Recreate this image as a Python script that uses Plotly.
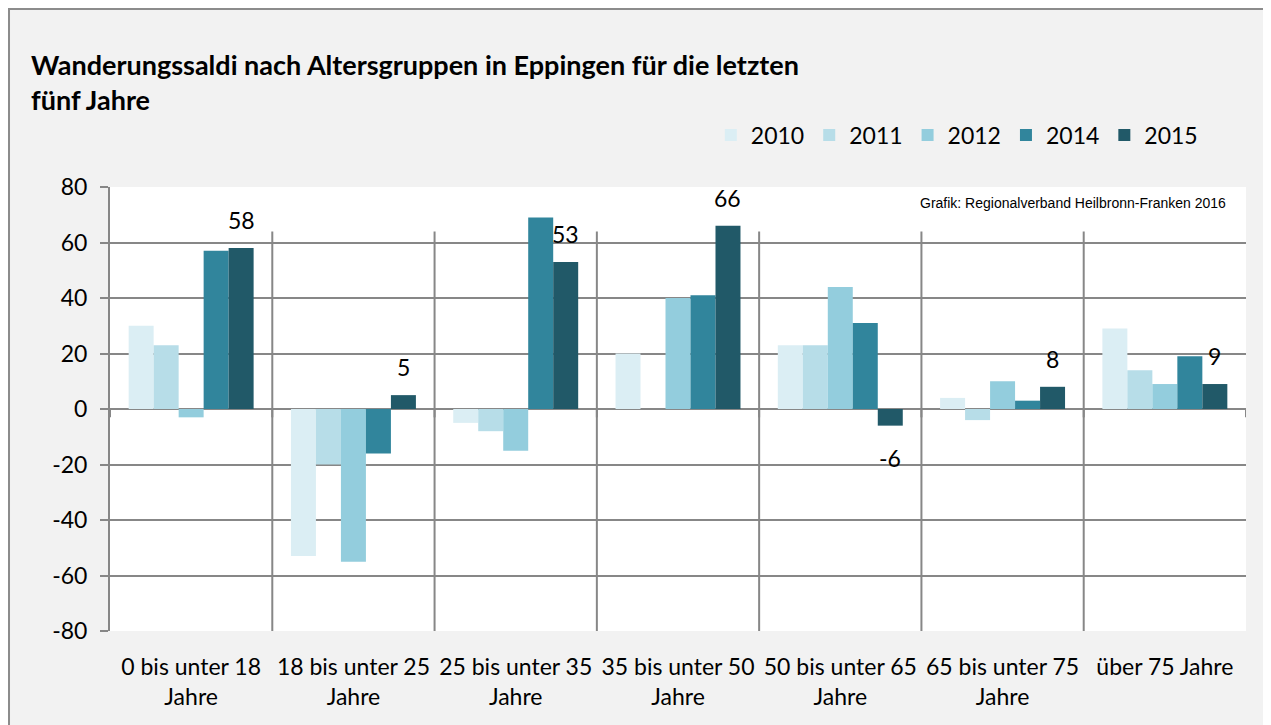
import plotly.graph_objects as go

categories = ["0 bis unter 18<br>Jahre", "18 bis unter 25<br>Jahre", "25 bis unter 35<br>Jahre",
              "35 bis unter 50<br>Jahre", "50 bis unter 65<br>Jahre", "65 bis unter 75<br>Jahre",
              "über 75 Jahre"]
years = ["2010", "2011", "2012", "2014", "2015"]
v2010 = [30, -53, -5, 20, 23, 4, 29]
v2011 = [23, -20, -8, None, 23, -4, 14]
v2012 = [-3, -55, -15, 40, 44, 10, 9]
v2014 = [57, -16, 69, 41, 31, 3, 19]
v2015 = [58, 5, 53, 66, -6, 8, 9]
colors = ["#dbeef4", "#b7dde8", "#93cddd", "#31859c", "#215968"]
yticks = [-80, -60, -40, -20, 0, 20, 40, 60, 80]
yticklabels = ["-80", "-60", "-40", "-20", "0", "20", "40", "60", "80"]

series = [v2010, v2011, v2012, v2014, v2015]
BARGAP = 0.23
FONT = "Lato"
GRID = "#878787"

fig = go.Figure()
xs = list(range(len(categories)))
for name, vals, col in zip(years, series, colors):
    fig.add_trace(go.Bar(x=xs, y=vals, name=name, marker=dict(color=col, line=dict(width=0))))

annotations = []
off = 2 * (1 - BARGAP) / 5
for i, v in enumerate(v2015):
    annotations.append(dict(x=i + off, y=v, xref="x", yref="y", text=str(v), showarrow=False,
                            yshift=28 if v >= 0 else -32,
                            font=dict(family=FONT, size=23, color="#000000")))

annotations += [
    dict(x=-0.071, y=1.277, xref="paper", yref="paper", xanchor="left", yanchor="middle",
         text="<b>Wanderungssaldi nach Altersgruppen in Eppingen für die letzten</b>", showarrow=False,
         font=dict(family=FONT, size=27, color="#000000")),
    dict(x=-0.071, y=1.196, xref="paper", yref="paper", xanchor="left", yanchor="middle",
         text="<b>fünf Jahre</b>", showarrow=False,
         font=dict(family=FONT, size=27, color="#000000")),
    dict(x=0.984, y=0.964, xref="paper", yref="paper", xanchor="right", yanchor="middle",
         text="Grafik: Regionalverband Heilbronn-Franken 2016", showarrow=False,
         font=dict(family="Liberation Sans, Arial", size=14, color="#000000")),
]

shapes = []
for i in range(len(categories) - 1):
    shapes.append(dict(type="line", xref="x", yref="y", x0=i + 0.5, x1=i + 0.5, y0=64, y1=-80,
                       line=dict(color=GRID, width=2), layer="above"))
for i in range(len(categories) + 1):
    shapes.append(dict(type="line", xref="x", yref="y", x0=i - 0.5, x1=i - 0.5, y0=0, y1=-3,
                       line=dict(color=GRID, width=2), layer="above"))
shapes.append(dict(type="rect", xref="paper", yref="paper", x0=-0.0889, x1=1.3, y0=-0.4, y1=1.4009,
                   line=dict(color="#8c8c8c", width=2), fillcolor="rgba(0,0,0,0)", layer="below"))

fig.update_layout(
    width=1263, height=717,
    margin=dict(l=102, r=25, t=179, b=94),
    paper_bgcolor="#f2f2f2", plot_bgcolor="#ffffff",
    barmode="group", bargap=BARGAP, bargroupgap=0,
    font=dict(family=FONT, size=23, color="#000000"),
    legend=dict(orientation="h", x=0.962, xanchor="right", y=1.117, yanchor="middle",
                font=dict(family=FONT, size=23), itemwidth=30, bgcolor="rgba(0,0,0,0)",
                traceorder="normal"),
    annotations=annotations, shapes=shapes,
    xaxis=dict(tickmode="array", tickvals=xs, ticktext=categories, range=[-0.5, len(categories) - 0.5],
               showgrid=False, zeroline=False, showline=False, ticks="", ticklabelstandoff=20,
               tickfont=dict(family=FONT, size=23)),
    yaxis=dict(range=[-80, 80], tickmode="array", tickvals=yticks, ticktext=yticklabels,
               showgrid=True, gridcolor=GRID, gridwidth=2,
               zeroline=True, zerolinecolor=GRID, zerolinewidth=2,
               showline=True, linecolor=GRID, linewidth=2, ticks="outside", ticklen=8,
               tickcolor=GRID, tickwidth=2, ticklabelstandoff=8, tickfont=dict(family=FONT, size=23)),
)

fig.write_html("out.html")
